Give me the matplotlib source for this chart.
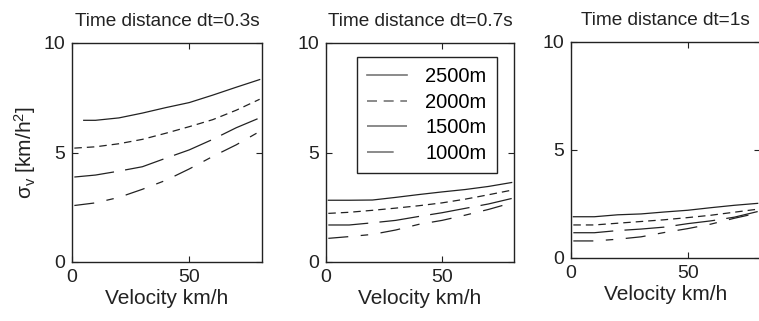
import matplotlib
matplotlib.use("Agg")
import matplotlib.pyplot as plt

plt.rcParams['font.family'] = ['Liberation Sans', 'DejaVu Sans']
plt.rcParams['mathtext.fontset'] = 'custom'
plt.rcParams['mathtext.rm'] = 'Liberation Sans'
plt.rcParams['mathtext.it'] = 'Liberation Sans'

# ---- data ----
titles = ["Time distance dt=0.3s", "Time distance dt=0.7s", "Time distance dt=1s"]
labels = ["2500m", "2000m", "1500m", "1000m"]
x_2500_p1 = [5, 10, 20, 30, 40, 50, 60, 70, 80]
x_common = [1, 10, 20, 30, 40, 50, 60, 70, 80]

p1_2500 = [6.47, 6.47, 6.58, 6.80, 7.05, 7.28, 7.62, 7.98, 8.33]
p1_2000 = [5.20, 5.26, 5.40, 5.60, 5.88, 6.18, 6.50, 6.93, 7.43]
p1_1500 = [3.88, 3.97, 4.15, 4.35, 4.74, 5.12, 5.60, 6.13, 6.58]
p1_1000 = [2.58, 2.70, 2.95, 3.32, 3.73, 4.25, 4.82, 5.35, 5.96]

p2_2500 = [2.82, 2.82, 2.83, 2.95, 3.08, 3.20, 3.31, 3.45, 3.63]
p2_2000 = [2.22, 2.27, 2.36, 2.46, 2.57, 2.70, 2.87, 3.07, 3.28]
p2_1500 = [1.69, 1.69, 1.79, 1.90, 2.08, 2.25, 2.45, 2.65, 2.90]
p2_1000 = [1.08, 1.16, 1.26, 1.46, 1.72, 1.90, 2.14, 2.40, 2.70]

p3_2500 = [1.91, 1.91, 2.00, 2.04, 2.13, 2.21, 2.33, 2.44, 2.53]
p3_2000 = [1.53, 1.53, 1.61, 1.69, 1.77, 1.87, 1.98, 2.12, 2.26]
p3_1500 = [1.17, 1.17, 1.27, 1.34, 1.43, 1.59, 1.72, 1.89, 2.15]
p3_1000 = [0.79, 0.79, 0.87, 0.98, 1.18, 1.36, 1.57, 1.84, 2.08]

panels = [
    [(x_2500_p1, p1_2500), (x_common, p1_2000), (x_common, p1_1500), (x_common, p1_1000)],
    [(x_common, p2_2500), (x_common, p2_2000), (x_common, p2_1500), (x_common, p2_1000)],
    [(x_common, p3_2500), (x_common, p3_2000), (x_common, p3_1500), (x_common, p3_1000)],
]

styles = ['-', (0, (6, 4)), (0, (32, 9)), (0, (16, 10, 6, 10))]
line_color = '#222222'

fig = plt.figure(figsize=(7.59, 3.21), dpi=100)
W, H = 759, 321
rects = [
    (72, 43, 262, 262),
    (326, 43, 514, 262),
    (571, 42, 760, 258),
]
axes = []
for i, (l, t, r, b) in enumerate(rects):
    ax = fig.add_axes([l / W, 1 - b / H, (r - l) / W, (b - t) / H])
    axes.append(ax)
    handles = []
    for (xs, ys), ls, lab in zip(panels[i], styles, labels):
        h, = ax.plot(xs, ys, color=line_color, linestyle=ls, linewidth=0.9, label=lab)
        handles.append(h)
    ax.set_xlim(0, 81)
    ax.set_ylim(0, 10)
    ax.set_xticks([0, 50])
    ax.set_yticks([0, 5, 10])
    ax.tick_params(direction='in', top=True, right=True, length=4, width=0.8,
                   labelsize=14, pad=5, colors='#222222')
    for s in ax.spines.values():
        s.set_linewidth(1.0)
        s.set_color('#222222')
    ax.set_title(titles[i], fontsize=13.7, pad=12, color='#222222')
    ax.set_xlabel("Velocity km/h", fontsize=15, labelpad=2, color='#222222')
    if i == 0:
        ax.set_ylabel(r"$\mathregular{\sigma_v}$ [km/h$^\mathregular{2}$]", fontsize=15,
                      labelpad=4, color='#222222')
    if i == 1:
        leg = ax.legend(handles=handles, loc='upper left', bbox_to_anchor=(0.165, 0.936),
                        borderaxespad=0, fontsize=14.5, frameon=True, fancybox=False,
                        framealpha=1, edgecolor='#222222', handlelength=2.0,
                        labelspacing=0.33, handletextpad=0.9, borderpad=0.5)
        leg.get_frame().set_linewidth(1.0)
        for lh in leg.get_lines():
            lh.set_color('#777777')
            lh.set_linewidth(1.2)

fig.savefig("out.png", dpi=100)
